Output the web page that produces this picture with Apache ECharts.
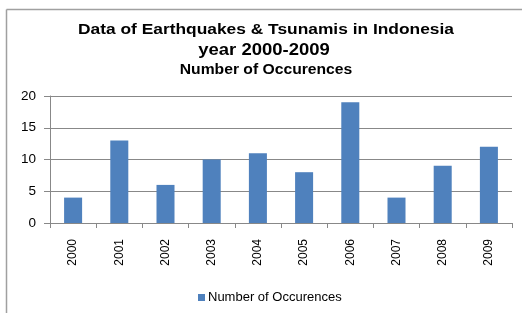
<!DOCTYPE html>
<html><head><meta charset="utf-8">
<script src="https://cdn.jsdelivr.net/npm/echarts@6/dist/echarts.min.js"></script>
<style>html,body{margin:0;padding:0;background:#fff}#c{width:522px;height:313px}</style>
</head><body><div id="c"></div>
<script>
const categories = ['2000','2001','2002','2003','2004','2005','2006','2007','2008','2009'];
const occurrences = [4, 13, 6, 10, 11, 8, 19, 4, 9, 12];
const seriesName = 'Number of Occurences';
const yTicks = [0, 5, 10, 15, 20];
const titleLines = ['Data of Earthquakes & Tsunamis in Indonesia', 'year 2000-2009', 'Number of Occurences'];

const chart = echarts.init(document.getElementById('c'));
chart.setOption({
  animation: false,
  backgroundColor: '#fff',
  graphic: [
    {type: 'line', shape: {x1: 6.5, y1: 9.5, x2: 522, y2: 9.5}, style: {stroke: '#a0a0a0', lineWidth: 1.5}},
    {type: 'line', shape: {x1: 6.5, y1: 9.5, x2: 6.5, y2: 313}, style: {stroke: '#a0a0a0', lineWidth: 1.5}},
    {type: 'text', x: 266, y: 22, scaleX: 1.12, style: {text: titleLines[0], textAlign: 'center', textVerticalAlign: 'top', font: 'bold 15.5px Arial, "Liberation Sans"', fill: '#000'}},
    {type: 'text', x: 264, y: 42, scaleX: 1.12, style: {text: titleLines[1], textAlign: 'center', textVerticalAlign: 'top', font: 'bold 16.5px Arial, "Liberation Sans"', fill: '#000'}},
    {type: 'text', x: 266, y: 63, scaleX: 1.12, style: {text: titleLines[2], textAlign: 'center', textVerticalAlign: 'top', font: 'bold 14px Arial, "Liberation Sans"', fill: '#000'}}
  ],
  grid: {left: 50, right: 10, top: 96, bottom: 90, containLabel: false},
  legend: {
    top: 286, left: 193,
    itemWidth: 7, itemHeight: 7, icon: 'rect', itemGap: 10,
    textStyle: {fontSize: 13, color: '#000', fontFamily: '"Liberation Sans", Arial', padding: [0, 0, 0, -2]},
    data: [seriesName]
  },
  xAxis: {
    type: 'category', data: categories,
    axisLine: {lineStyle: {color: '#888'}},
    axisTick: {show: true, length: 5, lineStyle: {color: '#888'}},
    axisLabel: {rotate: 90, fontSize: 12, color: '#000', margin: 16, fontFamily: '"Liberation Sans", Arial'}
  },
  yAxis: {
    type: 'value', min: yTicks[0], max: yTicks[yTicks.length-1], interval: 5,
    axisLine: {show: true, lineStyle: {color: '#888'}},
    axisTick: {show: true, length: 6, lineStyle: {color: '#888'}},
    splitLine: {lineStyle: {color: '#888'}},
    axisLabel: {fontSize: 13.5, color: '#000', margin: 14, fontFamily: '"Liberation Sans", Arial'}
  },
  series: [{
    name: seriesName, type: 'bar', data: occurrences,
    barWidth: '39%',
    itemStyle: {color: '#4f81bd'}
  }]
});
</script></body></html>
